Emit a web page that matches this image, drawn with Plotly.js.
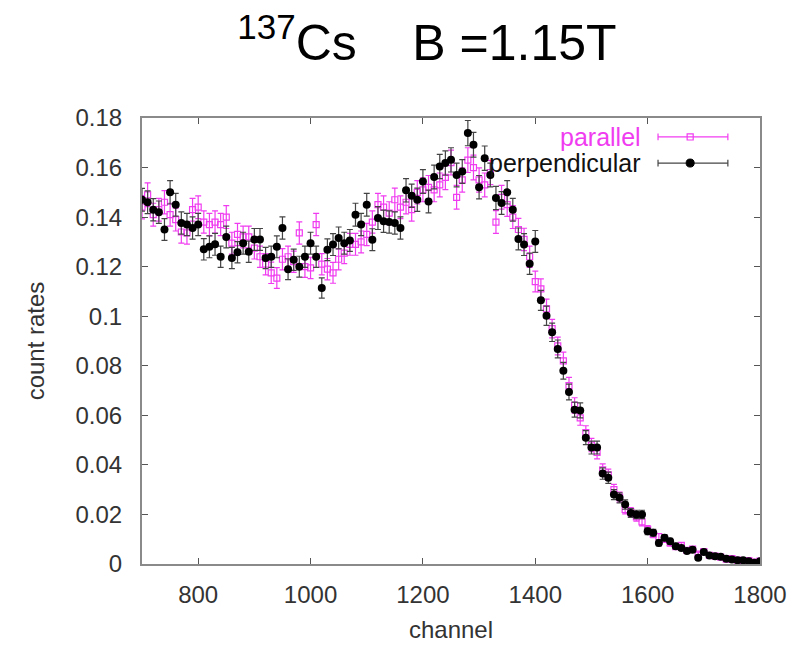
<!DOCTYPE html>
<html>
<head>
<meta charset="utf-8">
<script src="https://cdn.plot.ly/plotly-3.0.1.min.js"></script>
<style>html,body{margin:0;padding:0;background:#fff;}#chart{width:795px;height:649px;}</style>
</head>
<body>
<div id="chart"></div>
<script>
// ---- data ----
var channels = [
  700,710,720,730,740,750,760,770,780,790,
  800,810,820,830,840,850,860,870,880,890,
  900,910,920,930,940,950,960,970,980,990,
  1000,1010,1020,1030,1040,1050,1060,1070,1080,1090,
  1100,1110,1120,1130,1140,1150,1160,1170,1180,1190,
  1200,1210,1220,1230,1240,1250,1260,1270,1280,1290,
  1300,1310,1320,1330,1340,1350,1360,1370,1380,1390,
  1400,1410,1420,1430,1440,1450,1460,1470,1480,1490,
  1500,1510,1520,1530,1540,1550,1560,1570,1580,1590,
  1600,1610,1620,1630,1640,1650,1660,1670,1680,1690,
  1700,1710,1720,1730,1740,1750,1760,1770,1780,1790,
  1800];

var parallel = [
  0.144,0.149,0.141,0.143,0.146,0.141,0.139,0.134,0.1336,0.143,
  0.144,0.138,0.137,0.138,0.137,0.140,0.1295,0.133,0.132,0.132,
  0.1275,0.124,0.121,0.1175,0.1154,0.123,0.124,0.122,0.1336,0.120,
  0.1195,0.137,0.121,0.119,0.1175,0.123,0.1255,0.129,0.129,0.130,
  0.133,0.138,0.145,0.144,0.1416,0.147,0.144,0.146,0.143,0.150,
  0.151,0.152,0.151,0.153,0.156,0.162,0.148,0.155,0.163,0.160,
  0.155,0.153,0.158,0.138,0.148,0.145,0.140,0.135,0.131,0.124,
  0.114,0.111,0.103,0.095,0.088,0.082,0.072,0.064,0.059,0.053,
  0.048,0.045,0.038,0.036,0.030,0.027,0.022,0.021,0.019,0.017,
  0.014,0.012,0.011,0.010,0.0085,0.007,0.0075,0.0055,0.006,0.004,
  0.005,0.0035,0.0032,0.0028,0.002,0.0022,0.0016,0.0012,0.0014,0.0008,
  0.0012];

var parallelErr = [
  0.0047,0.0048,0.0046,0.0046,0.0047,0.0046,0.0046,0.0045,0.0045,0.0046,
  0.0046,0.0045,0.0045,0.0045,0.0045,0.0046,0.0044,0.0045,0.0044,0.0044,
  0.0044,0.0043,0.0043,0.0043,0.0042,0.0043,0.0043,0.0043,0.0045,0.0043,
  0.0043,0.0045,0.0043,0.0043,0.0042,0.0043,0.0043,0.0044,0.0044,0.0044,
  0.0045,0.0045,0.0046,0.0046,0.0046,0.0047,0.0046,0.0047,0.0046,0.0047,
  0.0048,0.0048,0.0048,0.0048,0.0049,0.0050,0.0048,0.0049,0.0050,0.0050,
  0.0049,0.0048,0.0049,0.0046,0.0048,0.0047,0.0046,0.0045,0.0045,0.0043,
  0.0042,0.0041,0.0039,0.0037,0.0036,0.0035,0.0033,0.0031,0.0030,0.0028,
  0.0027,0.0026,0.0024,0.0023,0.0021,0.0020,0.0018,0.0018,0.0017,0.0016,
  0.0015,0.0014,0.0013,0.0013,0.0012,0.0011,0.0011,0.0009,0.0010,0.0008,
  0.0009,0.0007,0.0007,0.0007,0.0006,0.0006,0.0005,0.0004,0.0005,0.0004,
  0.0004];

var perpendicular = [
  0.147,0.146,0.143,0.142,0.135,0.150,0.145,0.1376,0.137,0.1356,
  0.137,0.127,0.128,0.129,0.124,0.132,0.1235,0.1258,0.1295,0.126,
  0.131,0.131,0.1235,0.124,0.128,0.1356,0.119,0.1228,0.120,0.124,
  0.1295,0.124,0.1114,0.1268,0.1289,0.1316,0.1295,0.1306,0.141,0.137,
  0.145,0.1309,0.1396,0.1383,0.138,0.1376,0.1356,0.1508,0.1486,0.147,
  0.1544,0.1463,0.1562,0.1604,0.1618,0.1631,0.157,0.1584,0.1739,0.1692,
  0.1521,0.1638,0.157,0.1477,0.1457,0.150,0.143,0.1312,0.1289,0.1212,
  0.1302,0.1064,0.1002,0.0935,0.0868,0.078,0.0694,0.0623,0.062,0.051,
  0.047,0.047,0.0365,0.0348,0.028,0.0267,0.024,0.0206,0.020,0.020,
  0.0132,0.0126,0.0085,0.0106,0.0092,0.0072,0.0065,0.0052,0.0058,0.0025,
  0.0048,0.0034,0.0031,0.0029,0.0021,0.0018,0.0015,0.0015,0.0011,0.0005,
  0.0011];

var perpendicularErr = [
  0.0046,0.0046,0.0045,0.0045,0.0044,0.0047,0.0046,0.0045,0.0045,0.0045,
  0.0045,0.0043,0.0044,0.0044,0.0043,0.0044,0.0043,0.0043,0.0044,0.0043,
  0.0044,0.0044,0.0043,0.0043,0.0044,0.0045,0.0042,0.0043,0.0042,0.0043,
  0.0044,0.0043,0.0041,0.0044,0.0044,0.0044,0.0044,0.0044,0.0046,0.0045,
  0.0046,0.0044,0.0046,0.0045,0.0045,0.0045,0.0045,0.0047,0.0047,0.0047,
  0.0048,0.0046,0.0048,0.0049,0.0049,0.0049,0.0048,0.0048,0.0051,0.0050,
  0.0047,0.0049,0.0048,0.0047,0.0046,0.0047,0.0046,0.0044,0.0044,0.0043,
  0.0044,0.0040,0.0039,0.0037,0.0036,0.0034,0.0032,0.0030,0.0030,0.0028,
  0.0026,0.0026,0.0023,0.0023,0.0020,0.0020,0.0019,0.0018,0.0017,0.0017,
  0.0014,0.0014,0.0012,0.0013,0.0012,0.0011,0.0010,0.0009,0.0009,0.0007,
  0.0009,0.0007,0.0007,0.0007,0.0006,0.0006,0.0005,0.0005,0.0004,0.0003,
  0.0004];

var xTickVals = [800, 1000, 1200, 1400, 1600, 1800];
var xTickText = ['800', '1000', '1200', '1400', '1600', '1800'];
var yTickVals = [0, 0.02, 0.04, 0.06, 0.08, 0.1, 0.12, 0.14, 0.16, 0.18];
var yTickText = ['0', '0.02', '0.04', '0.06', '0.08', '0.1', '0.12', '0.14', '0.16', '0.18'];
var seriesNames = ['parallel', 'perpendicular'];

// ---- style ----
var PINK = '#f03cf0';
var BLACK = '#000000';
var FONT = 'Liberation Sans, Arial, Helvetica, sans-serif';

var traces = [
  {
    x: channels, y: parallel, type: 'scatter', mode: 'markers', name: seriesNames[0],
    marker: {symbol: 'square-open', size: 6, color: PINK, line: {width: 1.2, color: PINK}},
    error_y: {type: 'data', array: parallelErr, visible: true, color: PINK, thickness: 1.2, width: 3},
    showlegend: false
  },
  {
    x: channels, y: perpendicular, type: 'scatter', mode: 'markers', name: seriesNames[1],
    marker: {symbol: 'circle', size: 8, color: BLACK},
    error_y: {type: 'data', array: perpendicularErr, visible: true, color: '#444', thickness: 1.2, width: 3},
    showlegend: false
  }
];

// legend drawn in gnuplot style (text left, sample right), paper coords
var L = {xText: 0.811, x0: 0.835, x1: 0.948, xm: 0.887, y1: 0.9575, y2: 0.899, cap: 0.0075};
var shapes = [];
function sampleLine(y, col) {
  shapes.push({type: 'line', xref: 'paper', yref: 'paper', x0: L.x0, x1: L.x1, y0: y, y1: y, line: {color: col, width: 1.2}});
  shapes.push({type: 'line', xref: 'paper', yref: 'paper', x0: L.x0, x1: L.x0, y0: y - L.cap, y1: y + L.cap, line: {color: col, width: 1.2}});
  shapes.push({type: 'line', xref: 'paper', yref: 'paper', x0: L.x1, x1: L.x1, y0: y - L.cap, y1: y + L.cap, line: {color: col, width: 1.2}});
}
sampleLine(L.y1, PINK);
sampleLine(L.y2, '#444');
shapes.push({type: 'rect', xref: 'paper', yref: 'paper', x0: L.xm - 0.0049, x1: L.xm + 0.0049, y0: L.y1 - 0.0068, y1: L.y1 + 0.0068, line: {color: PINK, width: 1.2}, fillcolor: 'rgba(0,0,0,0)'});
shapes.push({type: 'circle', xref: 'paper', yref: 'paper', x0: L.xm - 0.0065, x1: L.xm + 0.0065, y0: L.y2 - 0.009, y1: L.y2 + 0.009, line: {color: BLACK, width: 1}, fillcolor: BLACK});

var annotations = [
  {xref: 'paper', yref: 'paper', x: L.xText, y: L.y1, xanchor: 'right', yanchor: 'middle', showarrow: false,
   text: seriesNames[0], font: {family: FONT, size: 25, color: PINK}},
  {xref: 'paper', yref: 'paper', x: L.xText, y: L.y2, xanchor: 'right', yanchor: 'middle', showarrow: false,
   text: seriesNames[1], font: {family: FONT, size: 25, color: '#111'}}
];

var axisCommon = {
  showline: true, linecolor: '#8a8a8a', linewidth: 2, mirror: 'ticks',
  ticks: 'inside', ticklen: 6, tickwidth: 1, tickcolor: '#555',
  showgrid: false, zeroline: false,
  tickfont: {family: FONT, size: 24, color: '#333'}
};

var layout = {
  width: 795, height: 649,
  paper_bgcolor: '#ffffff', plot_bgcolor: '#ffffff',
  margin: {l: 142, r: 35, t: 118, b: 85},
  font: {family: FONT},
  title: {
    text: '<sup>137</sup>Cs\u00a0\u00a0\u00a0\u00a0B =1.15T',
    font: {family: FONT, size: 50, color: '#000'},
    xref: 'container', yref: 'container', x: 0.537, xanchor: 'center', y: 0.935, yanchor: 'middle'
  },
  xaxis: Object.assign({}, axisCommon, {
    range: [700, 1800], tickvals: xTickVals, ticktext: xTickText, ticklabelstandoff: 8,
    automargin: false,
    title: {text: 'channel', font: {family: FONT, size: 24, color: '#333'}, standoff: 14}
  }),
  yaxis: Object.assign({}, axisCommon, {
    range: [0, 0.18], tickvals: yTickVals, ticktext: yTickText, ticklabelstandoff: 13,
    automargin: false,
    title: {text: 'count rates', font: {family: FONT, size: 24, color: '#333'}, standoff: 24}
  }),
  shapes: shapes,
  annotations: annotations,
  showlegend: false
};

Plotly.newPlot('chart', traces, layout, {displayModeBar: false, staticPlot: true});
</script>
</body>
</html>
